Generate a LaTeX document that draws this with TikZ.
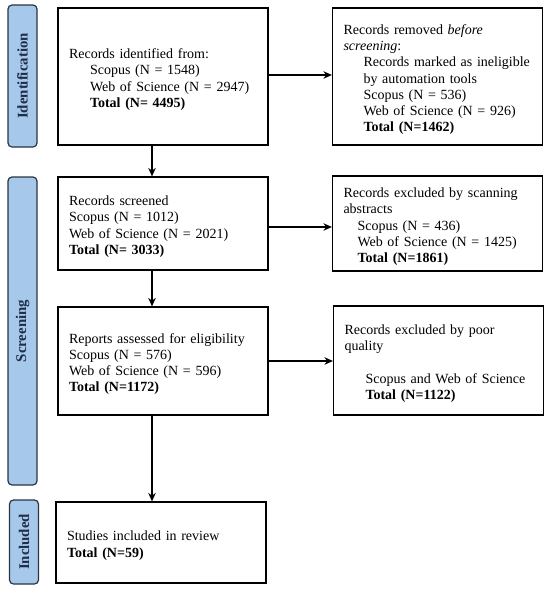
\documentclass[tikz,border=0pt]{standalone}
\usepackage{fontspec}
\setmainfont{Liberation Serif}
\usetikzlibrary{arrows.meta}
\definecolor{barfill}{HTML}{A6C8EA}
\definecolor{barline}{HTML}{2B3442}
\definecolor{bartext}{HTML}{1F2D4A}
\begin{document}
\begin{tikzpicture}[x=1pt,y=-1pt,
  box/.style={draw=black, line width=1.2pt, minimum width=210pt, text width=188pt, inner xsep=11pt, inner ysep=0pt, align=left, font=\fontsize{14}{16.3}\selectfont, execute at begin node={\rule{0pt}{16pt}}},
  phase/.style={draw=barline, fill=barfill, rounded corners=4pt, line width=1.2pt, minimum height=29pt, inner sep=0pt, rotate=90, font=\bfseries\fontsize{14.8}{16}\selectfont, text=bartext},
  arr/.style={-{Stealth[length=8.5pt,width=7.5pt]}, line width=1.2pt}]
\useasboundingbox (0,0) rectangle (550,590);
\coordinate (spine) at (152,0);
% phase bars
\node[phase, minimum width=142pt] (pid) at (22.5,76) {Identification};
\node[phase, minimum width=308pt] (psc) at (22.5,331) {Screening};
\node[phase, minimum width=84pt] (pin) at (24,542) {Included};
% boxes
\node[box, minimum height=137pt] (b1) at (163,76.5) {Records identified from:\\
\hspace*{21pt}Scopus (N = 1548)\\
\hspace*{21pt}Web of Science (N = 2947)\\
\hspace*{21pt}\textbf{Total (N= 4495)}};
\node[box, minimum width=209pt, minimum height=137pt] (b2) at (437.5,76.5) {Records removed \textit{before}\\
\textit{screening}:\\
\hspace*{20pt}\mbox{Records marked as ineligible}\\
\hspace*{20pt}by automation tools\\
\hspace*{20pt}Scopus (N = 536)\\
\hspace*{20pt}Web of Science (N = 926)\\
\hspace*{20pt}\textbf{Total (N=1462)}};
\node[box, minimum height=93pt] (b3) at (163,223.5) {Records screened\\
Scopus (N = 1012)\\
Web of Science (N = 2021)\\
\textbf{Total (N= 3033)}};
\node[box, minimum width=209pt, minimum height=95pt] (b4) at (437.5,223.5) {\mbox{Records excluded by scanning}\\
abstracts\\
\hspace*{14pt}Scopus (N = 436)\\
\hspace*{14pt}\mbox{Web of Science (N = 1425)}\\
\hspace*{14pt}\textbf{Total (N=1861)}};
\node[box, minimum height=108pt] (b5) at (163,361) {\mbox{Reports assessed for eligibility}\\
Scopus (N = 576)\\
Web of Science (N = 596)\\
\textbf{Total (N=1172)}};
\node[box, minimum width=209pt, minimum height=109pt] (b6) at (438.5,360.5) {Records excluded by poor\\
quality\\[16.3pt]
\hspace*{21pt}\mbox{Scopus and Web of Science}\\
\hspace*{21pt}\textbf{Total (N=1122)}};
\node[box, minimum height=81pt] (b7) at (161,542.5) {Studies included in review\\
\textbf{Total (N=59)}};
% arrows
\draw[arr] ([yshift=1.5pt]b1.east) -- ([yshift=1.5pt]b1.east -| b2.west);
\draw[arr] ([yshift=-3.5pt]b3.east) -- ([yshift=-3.5pt]b3.east -| b4.west);
\draw[arr] (b5.east) -- (b5.east -| b6.west);
\draw[arr] (b1.south -| spine) -- (b3.north -| spine);
\draw[arr] (b3.south -| spine) -- (b5.north -| spine);
\draw[arr] (b5.south -| spine) -- (b7.north -| spine);
\end{tikzpicture}
\end{document}
